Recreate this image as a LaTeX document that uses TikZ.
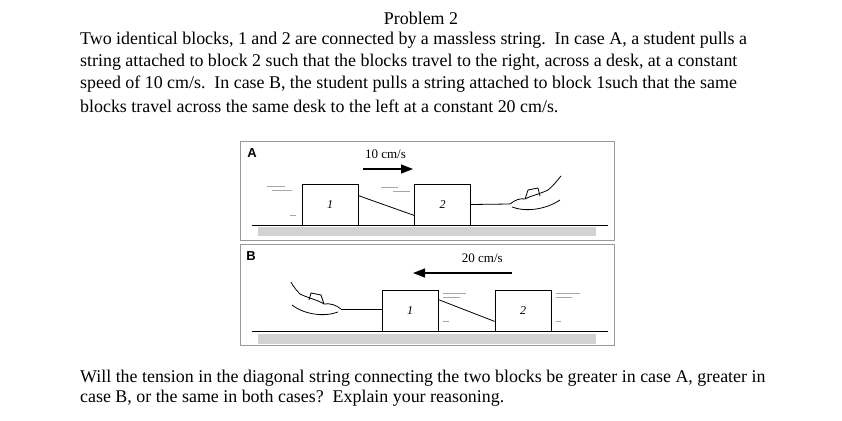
\documentclass[tikz,border=0pt]{standalone}
\usepackage{fontspec}
\setmainfont{Liberation Serif}
\newfontfamily\sansf{Liberation Sans}
\usetikzlibrary{positioning,arrows.meta}
\begin{document}
\begin{tikzpicture}[x=1pt,y=-1pt,
    txt/.style={anchor=west,inner sep=0pt,font=\fontsize{17.9}{22}\selectfont},
    block/.style={draw,thick,minimum width=56pt,minimum height=41pt,inner sep=0pt,font=\itshape\fontsize{12}{13}\selectfont},
    panel/.style={draw,gray!80,line width=1pt},
    desk/.style={fill=gray!35},
    speed/.style={-{Triangle[length=12pt,width=9pt]},line width=1.3pt},
    wind/.style={gray!70,line width=0.8pt}]
\useasboundingbox (0,0) rectangle (842,420);
% question text
\node (title) at (421,18) {\fontsize{17.9}{22}\selectfont Problem 2};
\node[txt] (l1) at (80,40) {Two identical blocks, 1 and 2 are connected by a massless string.\ \ In case A, a student pulls a};
\node[txt] (l2) at (80,62) {string attached to block 2 such that the blocks travel to the right, across a desk, at a constant};
\node[txt] (l3) at (80,84) {speed of 10 cm/s.\ \ In case B, the student pulls a string attached to block 1such that the same};
\node[txt] (l4) at (80,106) {blocks travel across the same desk to the left at a constant 20 cm/s.};
\node[txt] (q1) at (80,378) {Will the tension in the diagonal string connecting the two blocks be greater in case A, greater in};
\node[txt] (q2) at (80,398) {case B, or the same in both cases?\ \ Explain your reasoning.};
% case A
\draw[panel] (240,141) rectangle (614,240);
\node[font=\sansf\bfseries\fontsize{13}{14}\selectfont] (labA) at (252,153) {A};
\fill[desk] (258,227) rectangle (596,236);
\draw[thick] (252,225) -- (608,225);
\node[block] (a1) at (330,204.5) {1};
\node[block] (a2) at (442.5,204.5) {2};
\draw[thick] ([yshift=-12pt]a1.north east) -- ([yshift=10pt]a2.south west);
\coordinate (handA) at (510,204);
\draw[thick] (a2.east) -- (handA);
\draw[speed] (363,169) -- (413,169) node[pos=.45,above=6pt,font=\fontsize{13}{14}\selectfont] (vA) {10 cm/s};
\draw[wind] (267,186) -- (285,186) (272,190) -- (292,190) (290,215) -- (296,215);
\draw[wind] (381,187) -- (398,187) (393,191) -- (410,191);
% hand A
\draw[thick,fill=white] (handA) .. controls (515,200) and (520,198) .. (525,199)
  .. controls (530,196) and (540,194) .. (548,190)
  (512,207) .. controls (525,212) and (545,210) .. (560,200)
  (525,199) -- (528,190) -- (538,188) -- (540,196)
  (548,190) .. controls (553,186) and (556,182) .. (561,176);
% case B
\draw[panel] (240,244) rectangle (614,345);
\node[font=\sansf\bfseries\fontsize{13}{14}\selectfont] (labB) at (251,256) {B};
\fill[desk] (258,334) rectangle (596,344);
\draw[thick] (252,331) -- (608,331);
\node[block] (b1) at (410,310.5) {1};
\node[block] (b2) at (523,310.5) {2};
\draw[thick] ([yshift=-10pt]b1.north east) -- ([yshift=10pt]b2.south west);
\coordinate (handB) at (341,309);
\draw[thick] (b1.west |- handB) -- (handB);
\draw[speed] (512,273) -- (413,273) node[pos=.3,above=6pt,font=\fontsize{13}{14}\selectfont] (vB) {20 cm/s};
\draw[wind] (443,293) -- (466,293) (443,297) -- (460,297) (443,321) -- (449,321);
\draw[wind] (556,293) -- (580,293) (556,297) -- (572,297) (556,321) -- (561,321);
% hand B
\draw[thick,fill=white] (handB) .. controls (336,305) and (330,303) .. (324,304)
  .. controls (318,300) and (308,298) .. (300,294)
  (338,312) .. controls (325,317) and (305,315) .. (292,305)
  (324,304) -- (321,295) -- (311,293) -- (309,300)
  (300,294) .. controls (296,290) and (293,286) .. (291,282);
\end{tikzpicture}
\end{document}
